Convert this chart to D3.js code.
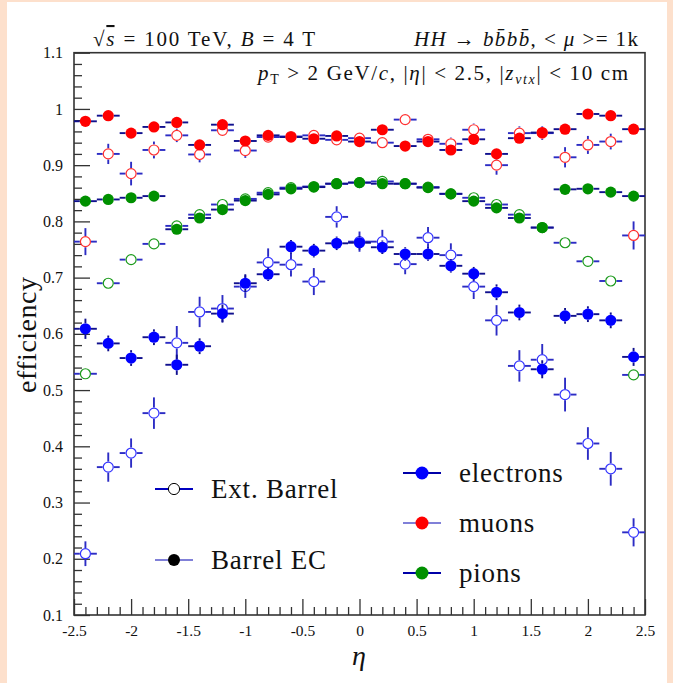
<!DOCTYPE html>
<html>
<head>
<meta charset="utf-8">
<script src="https://cdn.jsdelivr.net/npm/d3@7/dist/d3.min.js"></script>
<style>
  html, body { margin: 0; padding: 0; background: #fff; }
  #plot { width: 673px; height: 683px; }
  text { font-family: "Liberation Serif", "DejaVu Serif", serif; fill: #111; }
</style>
</head>
<body>
<div id="plot"></div>
<script>
// efficiency vs eta, open = Ext. Barrel, filled = Barrel EC
const eta = [-2.4, -2.2, -2.0, -1.8, -1.6, -1.4, -1.2, -1.0, -0.8, -0.6, -0.4, -0.2, 0.0,
  0.2, 0.4, 0.6, 0.8, 1.0, 1.2, 1.4, 1.6, 1.8, 2.0, 2.2, 2.4];
const etaHalfWidth = 0.1;

const elecBarrel = [0.609, 0.583, 0.557, 0.594, 0.545, 0.578, 0.636, 0.690, 0.706, 0.755, 0.748, 0.761, 0.762,
  0.754, 0.742, 0.742, 0.721, 0.707, 0.674, 0.638, 0.537, 0.632, 0.635, 0.624, 0.559];
const elecBarrelErr = [0.018, 0.014, 0.014, 0.014, 0.018, 0.014, 0.016, 0.016, 0.012, 0.012, 0.012, 0.012, 0.012,
  0.012, 0.012, 0.012, 0.012, 0.012, 0.014, 0.014, 0.016, 0.014, 0.014, 0.014, 0.016];
const elecExt = [0.209, 0.363, 0.388, 0.459, 0.584, 0.639, 0.645, 0.684, 0.727, 0.723, 0.693, 0.808, 0.764,
  0.764, 0.724, 0.771, 0.740, 0.684, 0.624, 0.543, 0.554, 0.492, 0.405, 0.360, 0.247];
const elecExtErr = [0.022, 0.026, 0.026, 0.028, 0.030, 0.027, 0.024, 0.020, 0.025, 0.021, 0.024, 0.019, 0.018,
  0.021, 0.018, 0.019, 0.021, 0.022, 0.027, 0.028, 0.028, 0.030, 0.029, 0.030, 0.025];

const muonBarrel = [0.978, 0.988, 0.957, 0.968, 0.976, 0.936, 0.972, 0.943, 0.953, 0.950, 0.947, 0.952, 0.942,
  0.963, 0.934, 0.942, 0.927, 0.946, 0.920, 0.948, 0.958, 0.964, 0.991, 0.988, 0.964];
const muonBarrelErr = [0.009, 0.008, 0.009, 0.008, 0.008, 0.009, 0.008, 0.008, 0.007, 0.007, 0.007, 0.007, 0.007,
  0.007, 0.007, 0.007, 0.007, 0.008, 0.009, 0.008, 0.008, 0.008, 0.008, 0.008, 0.009];
const muonExt = [0.764, 0.920, 0.885, 0.927, 0.953, 0.919, 0.962, 0.926, 0.950, 0.951, 0.953, 0.945, 0.948,
  0.940, 0.981, 0.946, 0.938, 0.963, 0.900, 0.957, 0.957, 0.914, 0.936, 0.942, 0.775];
const muonExtErr = [0.024, 0.018, 0.021, 0.015, 0.012, 0.014, 0.010, 0.013, 0.009, 0.009, 0.009, 0.008, 0.008,
  0.008, 0.010, 0.009, 0.011, 0.011, 0.017, 0.012, 0.012, 0.018, 0.016, 0.014, 0.025];

const pionBarrel = [0.836, 0.839, 0.842, 0.845, 0.786, 0.806, 0.821, 0.837, 0.848, 0.858, 0.861, 0.867, 0.869,
  0.867, 0.867, 0.860, 0.849, 0.836, 0.824, 0.806, 0.789, 0.857, 0.858, 0.852, 0.845];
const pionBarrelErr = [0.004, 0.004, 0.004, 0.004, 0.004, 0.004, 0.004, 0.004, 0.004, 0.004, 0.004, 0.004, 0.004,
  0.004, 0.004, 0.004, 0.004, 0.004, 0.004, 0.004, 0.004, 0.004, 0.004, 0.004, 0.004];
const pionExt = [0.529, 0.690, 0.732, 0.760, 0.792, 0.812, 0.830, 0.840, 0.851, 0.860, 0.862, 0.867, 0.869,
  0.871, 0.867, 0.861, 0.849, 0.842, 0.830, 0.812, 0.789, 0.762, 0.729, 0.694, 0.527];
const pionExtErr = [0.008, 0.006, 0.006, 0.006, 0.006, 0.006, 0.006, 0.006, 0.006, 0.006, 0.006, 0.006, 0.006,
  0.006, 0.006, 0.006, 0.006, 0.006, 0.006, 0.006, 0.006, 0.006, 0.006, 0.006, 0.008];

const xTicks = [-2.5, -2, -1.5, -1, -0.5, 0, 0.5, 1, 1.5, 2, 2.5];
const yTicks = [0.1, 0.2, 0.3, 0.4, 0.5, 0.6, 0.7, 0.8, 0.9, 1, 1.1];

const W = 673, H = 683;
const plotL = 74, plotR = 645, plotT = 52.7, plotB = 615;

const svg = d3.select('#plot').append('svg').attr('width', W).attr('height', H);

// peach canvas border
svg.append('rect').attr('x', 0).attr('y', 0).attr('width', W).attr('height', H).attr('fill', '#fde0cc');
svg.append('rect').attr('x', 7).attr('y', 2).attr('width', W - 13).attr('height', H - 2).attr('fill', '#fff');

const x = d3.scaleLinear().domain([-2.5, 2.5]).range([plotL, plotR]);
const y = d3.scaleLinear().domain([0.1, 1.1]).range([plotB, plotT]);

// minor ticks
const xMinor = d3.range(-25, 26).map((d) => d / 10).filter((d) => Math.abs(d * 2 - Math.round(d * 2)) > 1e-6);
const yMinor = d3.range(5, 56).map((d) => d / 50).filter((d) => Math.abs(d * 10 - Math.round(d * 10)) > 1e-6);

const tickStyle = (sel) => sel.selectAll('line').attr('stroke', '#333').attr('stroke-width', 1.3);

svg.append('g').attr('transform', `translate(0,${plotB})`)
  .call(d3.axisBottom(x).tickValues(xMinor).tickSize(-8).tickFormat(''))
  .call((g) => g.select('.domain').remove()).call(tickStyle);
const xAx = svg.append('g').attr('transform', `translate(0,${plotB})`)
  .call(d3.axisBottom(x).tickValues(xTicks).tickSize(-16).tickPadding(10).tickFormat((d) => String(d)))
  .call((g) => g.select('.domain').remove()).call(tickStyle);
xAx.selectAll('text').attr('font-size', 15.5).attr('font-family', 'Liberation Serif').attr('fill', '#111');

svg.append('g').attr('transform', `translate(${plotL},0)`)
  .call(d3.axisLeft(y).tickValues(yMinor).tickSize(-8).tickFormat(''))
  .call((g) => g.select('.domain').remove()).call(tickStyle);
const yAx = svg.append('g').attr('transform', `translate(${plotL},0)`)
  .call(d3.axisLeft(y).tickValues(yTicks).tickSize(-16).tickPadding(11).tickFormat((d) => String(d)))
  .call((g) => g.select('.domain').remove()).call(tickStyle);
yAx.selectAll('text').attr('font-size', 16).attr('font-family', 'Liberation Serif').attr('fill', '#111');

// frame
svg.append('rect').attr('x', plotL).attr('y', plotT).attr('width', plotR - plotL).attr('height', plotB - plotT)
  .attr('fill', 'none').attr('stroke', '#333').attr('stroke-width', 1.6);

const series = [
  { vals: pionExt, errs: pionExtErr, color: '#1a9a1a', open: true, bar: '#2c2cc4' },
  { vals: muonExt, errs: muonExtErr, color: '#ff3030', open: true, bar: '#2c2cc4' },
  { vals: elecExt, errs: elecExtErr, color: '#3333ff', open: true, bar: '#2c2cc4' },
  { vals: pionBarrel, errs: pionBarrelErr, color: '#009000', open: false, bar: '#10108e' },
  { vals: muonBarrel, errs: muonBarrelErr, color: '#ff0000', open: false, bar: '#10108e' },
  { vals: elecBarrel, errs: elecBarrelErr, color: '#0000ff', open: false, bar: '#10108e' },
];
const R = 5.6;

const data = svg.append('g');
series.forEach((s) => {
  const pts = eta.map((e, i) => ({ e, v: s.vals[i], err: s.errs[i] }));
  const g = data.append('g');
  pts.forEach((p) => {
    const cx = x(p.e), cy = y(p.v);
    const xl = x(p.e - etaHalfWidth), xr = x(p.e + etaHalfWidth);
    const yt = y(p.v + p.err), yb = y(p.v - p.err);
    const segs = [[xl, cy, cx - R, cy], [cx + R, cy, xr, cy]];
    if (cy - yt > R) segs.push([cx, yt, cx, cy - R]);
    if (yb - cy > R) segs.push([cx, cy + R, cx, yb]);
    segs.forEach((q) => {
      g.append('line').attr('x1', q[0]).attr('y1', q[1]).attr('x2', q[2]).attr('y2', q[3])
        .attr('stroke', s.bar).attr('stroke-width', 1.9);
    });
    g.append('circle').attr('cx', cx).attr('cy', cy).attr('r', s.open ? R - 0.6 : R)
      .attr('fill', s.open ? 'none' : s.color)
      .attr('stroke', s.color).attr('stroke-width', s.open ? 1.2 : 0);
  });
});

// legends
const legendMarkers = [
  { label: 'Ext. Barrel', lx: 155, ly: 489, line: '#0000c0', fill: '#fff', stroke: '#000', r: 5.6 },
  { label: 'Barrel EC', lx: 155, ly: 560, line: '#8080d8', fill: '#000', stroke: 'none', r: 6 },
  { label: 'electrons', lx: 403, ly: 473, line: '#0000a8', fill: '#0000ff', stroke: 'none', r: 6.5 },
  { label: 'muons', lx: 403, ly: 523, line: '#8080d8', fill: '#ff0000', stroke: 'none', r: 6.5 },
  { label: 'pions', lx: 403, ly: 573, line: '#0000a8', fill: '#009000', stroke: 'none', r: 6.5 },
];
legendMarkers.forEach((d) => {
  svg.append('line').attr('x1', d.lx).attr('x2', d.lx + 38).attr('y1', d.ly).attr('y2', d.ly)
    .attr('stroke', d.line).attr('stroke-width', 2);
  svg.append('circle').attr('cx', d.lx + 19).attr('cy', d.ly).attr('r', d.r)
    .attr('fill', d.fill).attr('stroke', d.stroke).attr('stroke-width', 1);
  svg.append('text').attr('x', d.lx + 56).attr('y', d.ly + 9).attr('font-size', 27)
    .attr('letter-spacing', 0.8).text(d.label);
});

// header texts
const t1 = svg.append('text').attr('x', 93).attr('y', 46).attr('font-size', 21)
  .attr('textLength', 222).attr('lengthAdjust', 'spacing');
t1.append('tspan').text('√');
t1.append('tspan').attr('font-style', 'italic').style('text-decoration', 'overline').text('s');
t1.append('tspan').text(' = 100 TeV, ');
t1.append('tspan').attr('font-style', 'italic').text('B');
t1.append('tspan').text(' = 4 T');

const t2 = svg.append('text').attr('x', 414).attr('y', 46).attr('font-size', 21)
  .attr('textLength', 224).attr('lengthAdjust', 'spacing');
t2.append('tspan').attr('font-style', 'italic').text('HH');
t2.append('tspan').text(' → ');
t2.append('tspan').attr('font-style', 'italic').text('bb\u0304bb\u0304');
t2.append('tspan').text(', < ');
t2.append('tspan').attr('font-style', 'italic').text('μ');
t2.append('tspan').text(' >= 1k');

const t3 = svg.append('text').attr('x', 258).attr('y', 80).attr('font-size', 21)
  .attr('textLength', 370).attr('lengthAdjust', 'spacing');
t3.append('tspan').attr('font-style', 'italic').text('p');
t3.append('tspan').attr('font-size', 14).attr('dy', 4).text('T');
t3.append('tspan').attr('dy', -4).text(' > 2 GeV/');
t3.append('tspan').attr('font-style', 'italic').text('c');
t3.append('tspan').text(', |');
t3.append('tspan').attr('font-style', 'italic').text('η');
t3.append('tspan').text('| < 2.5, |');
t3.append('tspan').attr('font-style', 'italic').text('z');
t3.append('tspan').attr('font-style', 'italic').attr('font-size', 14).attr('dy', 4).text('vtx');
t3.append('tspan').attr('dy', -4).text('| < 10 cm');

// axis titles
svg.append('text').attr('transform', 'translate(36,335) rotate(-90)').attr('text-anchor', 'middle')
  .attr('font-size', 28).attr('textLength', 116).attr('lengthAdjust', 'spacing').text('efficiency');
svg.append('text').attr('x', 359).attr('y', 665).attr('text-anchor', 'middle')
  .attr('font-size', 28).attr('font-style', 'italic').text('η');
</script>
</body>
</html>
